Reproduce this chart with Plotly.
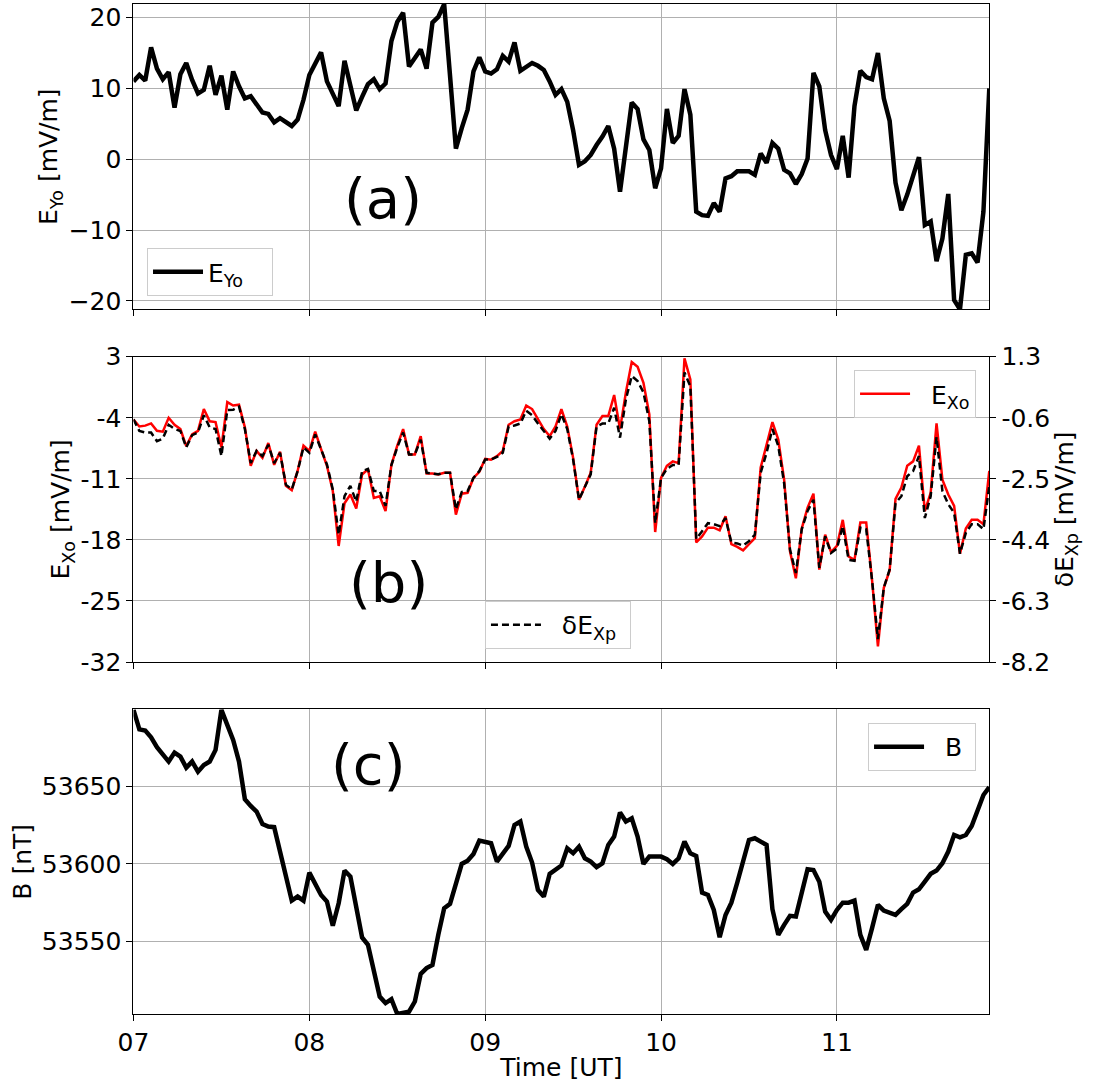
import plotly.graph_objects as go

# ---------------- data (2-minute samples from 07:00 UT) ----------------
minutes = list(range(0, 293, 2))
hour_ticks = [7, 8, 9, 10, 11]
hour_labels = ["07", "08", "09", "10", "11"]

E_Yo = [11.0, 11.9, 11.1, 15.8, 12.8, 11.3, 12.3, 7.3, 12.0, 13.6,
        11.2, 9.3, 9.8, 13.2, 9.1, 11.8, 7.0, 12.4, 10.3, 8.6,
        8.9, 7.7, 6.6, 6.4, 5.2, 5.8, 5.2, 4.7, 5.6, 8.4,
        11.9, 13.6, 15.1, 11.0, 9.3, 7.5, 13.9, 10.5, 6.9, 8.8,
        10.6, 11.3, 9.9, 10.7, 16.7, 19.4, 20.7, 13.1, 14.2, 15.5,
        12.8, 19.3, 20.1, 21.9, 11.8, 1.5, 4.4, 7.0, 12.4, 14.4,
        12.4, 12.1, 12.7, 14.6, 13.8, 16.5, 12.5, 13.1, 13.6, 13.2,
        12.6, 11.0, 9.1, 9.9, 8.1, 4.1, -0.8, -0.3, 0.6, 2.0,
        3.2, 4.7, 1.5, -4.6, 1.8, 8.0, 7.1, 2.8, 1.3, -4.1,
        -1.3, 7.1, 2.3, 3.3, 9.9, 6.3, -7.4, -7.9, -8.0, -6.2,
        -7.4, -2.7, -2.4, -1.7, -1.7, -1.7, -2.2, 0.8, -0.5, 2.3,
        1.5, -1.5, -2.0, -3.5, -2.1, 0.1, 12.2, 10.3, 4.1, 0.6,
        -1.4, 3.3, -2.6, 7.5, 12.5, 11.6, 11.3, 15.0, 8.6, 5.4,
        -3.3, -7.2, -5.0, -2.1, 0.3, -9.3, -8.8, -14.4, -11.2, -4.9,
        -19.9, -21.2, -13.5, -13.3, -14.6, -7.4, 10.0]

E_Xo = [-4.2, -5.0, -4.9, -4.65, -5.5, -5.6, -4.0, -4.8, -5.3, -7.25,
        -5.9, -5.5, -3.0, -4.4, -4.5, -7.4, -2.2, -2.6, -2.5, -5.1,
        -9.5, -7.8, -8.6, -6.9, -9.4, -7.9, -11.8, -12.3, -10.1, -7.2,
        -7.8, -5.6, -7.6, -9.5, -12.4, -18.7, -13.8, -12.8, -14.4, -10.5,
        -9.9, -13.2, -13.0, -14.7, -9.4, -7.2, -5.3, -8.2, -8.2, -6.1,
        -10.4, -10.4, -10.5, -10.3, -10.3, -15.1, -12.7, -12.6, -10.9, -10.2,
        -8.7, -8.8, -8.4, -7.8, -4.8, -4.4, -4.2, -2.6, -3.0, -4.2,
        -5.3, -6.1, -5.0, -3.0, -5.0, -8.6, -13.4, -11.9, -10.3, -4.8,
        -3.8, -3.8, -1.4, -5.3, -1.1, 2.4, 1.85, 0.0, -3.6, -17.1,
        -10.9, -9.5, -9.0, -9.2, 2.8, 0.4, -18.3, -17.6, -16.6, -16.6,
        -16.9, -15.3, -18.5, -18.8, -19.2, -18.5, -17.8, -9.7, -7.25, -4.5,
        -6.5, -11.1, -19.3, -22.4, -16.7, -14.3, -12.7, -21.4, -17.4, -19.4,
        -18.7, -15.7, -19.9, -20.3, -16.0, -16.0, -22.6, -30.2, -23.5, -21.5,
        -13.3, -12.0, -9.5, -9.0, -7.2, -14.7, -12.6, -4.65, -11.1, -12.8,
        -14.1, -19.6, -16.7, -15.7, -15.7, -16.2, -10.1]

dE_Xp = [-0.65, -1.01, -1.06, -1.06, -1.33, -1.25, -0.82, -0.95, -1.01, -1.52,
         -1.14, -1.06, -0.52, -0.90, -0.95, -1.79, -0.36, -0.35, -0.25, -0.95,
         -2.01, -1.63, -1.79, -1.44, -2.01, -1.69, -2.68, -2.83, -2.26, -1.52,
         -1.69, -1.12, -1.58, -2.05, -2.83, -4.24, -3.04, -2.72, -3.21, -2.26,
         -2.19, -2.88, -2.88, -3.34, -2.07, -1.52, -1.06, -1.74, -1.74, -1.28,
         -2.31, -2.34, -2.36, -2.31, -2.31, -3.45, -2.91, -2.88, -2.47, -2.26,
         -1.90, -1.90, -1.82, -1.69, -0.87, -0.84, -0.78, -0.38, -0.52, -0.78,
         -1.03, -1.25, -1.01, -0.49, -0.95, -1.90, -3.15, -2.77, -2.36, -0.87,
         -0.78, -0.78, -0.29, -1.22, -0.03, 0.70, 0.54, 0.19, -0.71, -3.88,
         -2.47, -2.19, -2.07, -2.07, 0.81, 0.38, -4.37, -4.13, -3.88, -3.91,
         -3.97, -3.72, -4.48, -4.51, -4.58, -4.44, -4.24, -2.31, -1.69, -0.95,
         -1.48, -2.64, -4.70, -5.43, -4.07, -3.50, -3.15, -5.27, -4.29, -4.81,
         -4.67, -3.97, -5.02, -5.05, -4.02, -4.07, -5.65, -7.49, -5.89, -5.32,
         -3.26, -3.04, -2.42, -2.26, -1.79, -3.72, -3.04, -1.20, -2.88, -3.29,
         -3.56, -4.83, -4.18, -3.91, -3.91, -4.07, -2.72]

B = [53699, 53686.5, 53685.7, 53681.4, 53675, 53670, 53665.8, 53671.6, 53669, 53661.9,
     53665.8, 53659.3, 53663.6, 53665.8, 53673.3, 53699, 53688.3, 53679.7, 53665.8, 53641.6,
     53637.3, 53633.6, 53625.7, 53624, 53623.6, 53607.9, 53592.9, 53576.4, 53579, 53576.4,
     53594.4, 53587.6, 53580, 53575.8, 53560.2, 53574.7, 53595.7, 53591.9, 53572.6, 53552.7,
     53548, 53531.9, 53514.7, 53510.5, 53513, 53503.5, 53504.5, 53505, 53511.5, 53529.3,
     53533, 53535, 53554.4, 53571.5, 53574.3, 53587.6, 53600, 53602, 53606.4, 53615,
     53614.4, 53613.3, 53601.5, 53606.9, 53611.6, 53625, 53627.2, 53611.1, 53600.9, 53583.3,
     53579, 53593.6, 53596.6, 53599, 53610, 53606.9, 53611.1, 53603.6, 53601.5, 53597.9,
     53600.4, 53612.2, 53617.6, 53633, 53627.2, 53629.3, 53617.6, 53600, 53604.7, 53604.7,
     53604.7, 53603, 53600, 53603.6, 53614.4, 53606.9, 53605.1, 53581.6, 53580.1, 53570.4,
     53552.9, 53567.2, 53575.1, 53588, 53602.1, 53615.4, 53616.5, 53614.4, 53612.2, 53570.9,
     53554.4, 53560.8, 53566.6, 53566.2, 53582.2, 53596.6, 53596.1, 53588.6, 53569.4, 53564,
     53570.4, 53575.1, 53575.1, 53576.4, 53554.4, 53544.7, 53558.7, 53573.7, 53570, 53568.7,
     53567.2, 53570.9, 53574.3, 53581.6, 53583.7, 53588.6, 53593.6, 53595.7, 53600.4, 53607.9,
     53618.6, 53617.1, 53618.6, 53624.4, 53633.6, 53644.3, 53649.3]

eyo_ticks = [-20, -10, 0, 10, 20]
exo_ticks = [-32, -25, -18, -11, -4, 3]
dexp_ticks = [-8.2, -6.3, -4.4, -2.5, -0.6, 1.3]
b_ticks = [53550, 53600, 53650]

time_h = [7 + m / 60 for m in minutes]

# ---------------- figure ----------------
FONT = "DejaVu Sans"
FS = 25
GRID = "#b0b0b0"

fig = go.Figure()
fig.add_trace(go.Scatter(x=time_h, y=E_Yo, mode="lines", name="E<sub>Yo</sub>   ",
                         line=dict(color="black", width=4.5), xaxis="x", yaxis="y",
                         legend="legend"))
fig.add_trace(go.Scatter(x=time_h, y=E_Xo, mode="lines", name="  E<sub>Xo</sub>",
                         line=dict(color="#ff0000", width=2.5), xaxis="x2", yaxis="y2",
                         legend="legend2"))
fig.add_trace(go.Scatter(x=time_h, y=dE_Xp, mode="lines", name="  δE<sub>Xp</sub> ",
                         line=dict(color="black", width=2.5, dash="7px,4px"),
                         xaxis="x2", yaxis="y3", legend="legend3"))
fig.add_trace(go.Scatter(x=time_h, y=B, mode="lines", name="  B ",
                         line=dict(color="black", width=4.5), xaxis="x3", yaxis="y4",
                         legend="legend4"))

XDOM = [0.12214, 0.90512]
xrange_ = [time_h[0], time_h[-1]]
common_x = dict(range=xrange_, domain=XDOM, showgrid=True, gridcolor=GRID, gridwidth=1,
                showline=True, linecolor="black", linewidth=1.2, mirror=True,
                ticks="outside", ticklen=6, tickcolor="black", tickwidth=1,
                tickvals=hour_ticks, ticktext=hour_labels, zeroline=False,
                automargin=False,
                tickfont=dict(family=FONT, size=FS, color="black"))
common_y = dict(showgrid=True, gridcolor=GRID, gridwidth=1, showline=True,
                linecolor="black", linewidth=1.2, mirror=True, ticks="outside",
                ticklen=6, tickcolor="black", tickwidth=1, zeroline=False,
                automargin=False,
                tickfont=dict(family=FONT, size=FS, color="black"),
                title_font=dict(family=FONT, size=FS, color="black"))

legend_style = dict(bgcolor="rgba(255,255,255,0.85)", bordercolor="#cccccc", borderwidth=1,
                    font=dict(family=FONT, size=FS), itemwidth=50)

fig.update_layout(
    width=1093, height=1082,
    margin=dict(l=0, r=0, t=0, b=0, autoexpand=False),
    paper_bgcolor="white", plot_bgcolor="white",
    font=dict(family=FONT, size=FS, color="black"),
    xaxis=dict(common_x, anchor="y", showticklabels=False),
    xaxis2=dict(common_x, anchor="y2", showticklabels=False, matches="x"),
    xaxis3=dict(common_x, anchor="y4", matches="x",
                title=dict(text="Time [UT]", font=dict(family=FONT, size=FS), standoff=4)),
    yaxis=dict(common_y, domain=[0.71414, 0.99630], anchor="x", range=[-21.2, 21.93],
               tickvals=eyo_ticks,
               title=dict(text="E<sub>Yo</sub> [mV/m]", standoff=3)),
    yaxis2=dict(common_y, domain=[0.38817, 0.67033], anchor="x2", range=[-32, 3],
                tickvals=exo_ticks, ticktext=[str(v) for v in exo_ticks],
                title=dict(text="E<sub>Xo</sub> [mV/m]", standoff=3)),
    yaxis3=dict(common_y, overlaying="y2", side="right", anchor="x2", range=[-8.2, 1.3],
                tickvals=dexp_ticks, ticktext=["%.1f" % v for v in dexp_ticks],
                showgrid=False, mirror=False,
                title=dict(text="δE<sub>Xp</sub> [mV/m]", standoff=3)),
    yaxis4=dict(common_y, domain=[0.06257, 0.34445], anchor="x3", range=[53503.3, 53699.4],
                tickvals=b_ticks, ticktext=[str(v) for v in b_ticks],
                title=dict(text="B [nT]", standoff=3)),
    legend=dict(legend_style, x=0.1345, y=0.7264, xanchor="left", yanchor="bottom"),
    legend2=dict(legend_style, x=0.893, y=0.658, xanchor="right", yanchor="top"),
    legend3=dict(legend_style, x=0.4437, y=0.4002, xanchor="left", yanchor="bottom"),
    legend4=dict(legend_style, x=0.893, y=0.3318, xanchor="right", yanchor="top"),
    showlegend=True,
)

for txt, ax, ay in [("(a)", 0.3504, 0.817), ("(b)", 0.3559, 0.4621), ("(c)", 0.3367, 0.2930)]:
    fig.add_annotation(text=txt, x=ax, y=ay, xref="paper", yref="paper",
                       xanchor="center", yanchor="middle", showarrow=False,
                       font=dict(family=FONT, size=56, color="black"))

fig.write_html("out.html")
